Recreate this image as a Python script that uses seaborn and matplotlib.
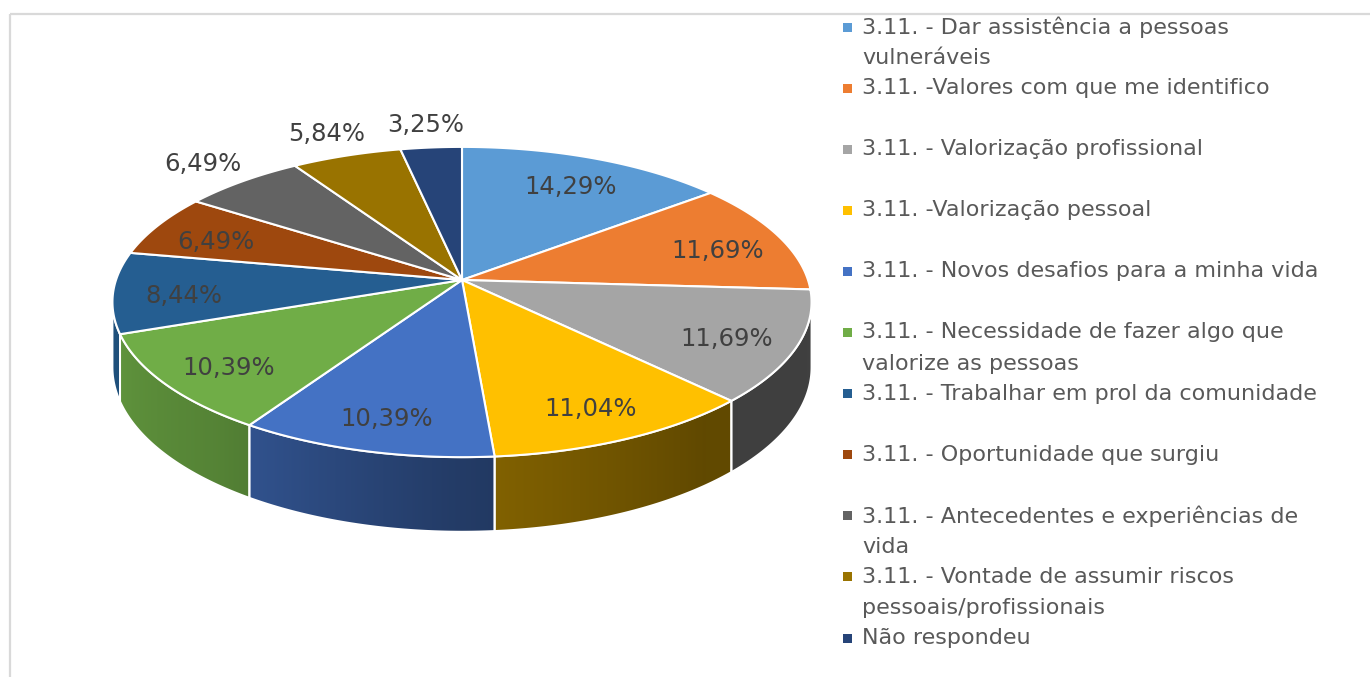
import numpy as np
import matplotlib.pyplot as plt
import seaborn as sns
from matplotlib.patches import Polygon, Rectangle

# data
labels = ['3.11. - Dar assistência a pessoas\nvulneráveis',
          '3.11. -Valores com que me identifico',
          '3.11. - Valorização profissional',
          '3.11. -Valorização pessoal',
          '3.11. - Novos desafios para a minha vida',
          '3.11. - Necessidade de fazer algo que\nvalorize as pessoas',
          '3.11. - Trabalhar em prol da comunidade',
          '3.11. - Oportunidade que surgiu',
          '3.11. - Antecedentes e experiências de\nvida',
          '3.11. - Vontade de assumir riscos\npessoais/profissionais',
          'Não respondeu']
percent = [14.29, 11.69, 11.69, 11.04, 10.39, 10.39, 8.44, 6.49, 6.49, 5.84, 3.25]
colors = ['#5B9BD5', '#ED7D31', '#A5A5A5', '#FFC000', '#4472C4', '#70AD47',
          '#255E91', '#9E480E', '#636363', '#997300', '#264478']

sns.set_theme(style='white')
plt.rcParams['font.family'] = ['DejaVu Sans']
palette = sns.color_palette(colors)

# 3d pie geometry (pixel space of the figure)
CX, CY = 462, 280
A, B, K = 346, 152, 0.142
DEPTH = 64


def proj(u, v, drop=0.0):
    w = 1 + K * v
    return CX + A * u / w, CY - B * v / w + drop / w


def shade(t):
    # lighting of the side wall, depends on the direction it faces
    a = np.mod(t, 360)
    return np.interp(a, [188, 200, 231, 268, 308, 352],
                     [0.87, 0.85, 0.76, 0.53, 0.38, 0.39])


fig = plt.figure(figsize=(13.7, 6.77), dpi=100)
ax = fig.add_axes([0, 0, 1, 1])

vals = np.array(percent)
cum = np.concatenate([[0], np.cumsum(vals)]) / vals.sum()
starts = 90 - 360 * cum[:-1]
ends = 90 - 360 * cum[1:]
vis_lo, vis_hi = -180 + np.degrees(np.arcsin(K)), -np.degrees(np.arcsin(K))

# side walls, filled with a horizontal gradient
for i in range(len(vals)):
    hi = min(starts[i], vis_hi)
    lo = max(ends[i], vis_lo)
    if hi <= lo:
        continue
    t = np.linspace(lo, hi, 80)
    tr = np.radians(t)
    xt, yt = proj(np.cos(tr), np.sin(tr))
    xb, yb = proj(np.cos(tr), np.sin(tr), DEPTH)
    outline = list(zip(xt, yt)) + list(zip(xb[::-1], yb[::-1]))
    poly = Polygon(outline, closed=True, facecolor='none',
                   edgecolor='white', linewidth=1.4, zorder=2)
    ax.add_patch(poly)
    xs = np.linspace(xt.min(), xt.max(), 200)
    f = np.interp(xs, xt, shade(t))
    img = np.clip(np.array(palette[i])[None, None, :] * f[None, :, None], 0, 1)
    im = ax.imshow(img, extent=(xt.min(), xt.max(), max(yb.max(), yt.max()),
                                min(yt.min(), yb.min())),
                   aspect='auto', interpolation='bilinear', zorder=1)
    im.set_clip_path(poly)

# top surface
for i in range(len(vals)):
    t = np.radians(np.linspace(starts[i], ends[i], 120))
    x, y = proj(np.cos(t), np.sin(t))
    pts = [proj(0, 0)] + list(zip(x, y))
    ax.add_patch(Polygon(pts, closed=True, facecolor=palette[i],
                         edgecolor='white', linewidth=1.5, zorder=3))

# data labels
for i, p in enumerate(percent):
    mid = np.radians((starts[i] + ends[i]) / 2)
    if i >= 8:
        r, dy = 1.2, 0
    else:
        r, dy = 0.8, 6
    x, y = proj(r * np.cos(mid), r * np.sin(mid))
    ax.text(x, y + dy, f'{p:.2f}%'.replace('.', ','), ha='center',
            va='center', fontsize=17.5, color='#404040', zorder=4)

# legend
for i, lab in enumerate(labels):
    y0 = 27 + i * 61.1
    ax.add_patch(Rectangle((843, y0 - 4.5), 9, 9, facecolor=palette[i],
                           edgecolor='none', zorder=4))
    for k, line in enumerate(lab.split('\n')):
        ax.text(862, y0 + k * 31, line, ha='left', va='center',
                fontsize=16, color='#595959', zorder=4)

# chart border
ax.add_patch(Rectangle((10.5, 13.5), 1400, 700, fill=False,
                       edgecolor='#D9D9D9', linewidth=1.6, zorder=0))

ax.set_xlim(0, 1370)
ax.set_ylim(677, 0)
ax.set_aspect('auto')
ax.axis('off')

fig.savefig('out.png', dpi=100)
